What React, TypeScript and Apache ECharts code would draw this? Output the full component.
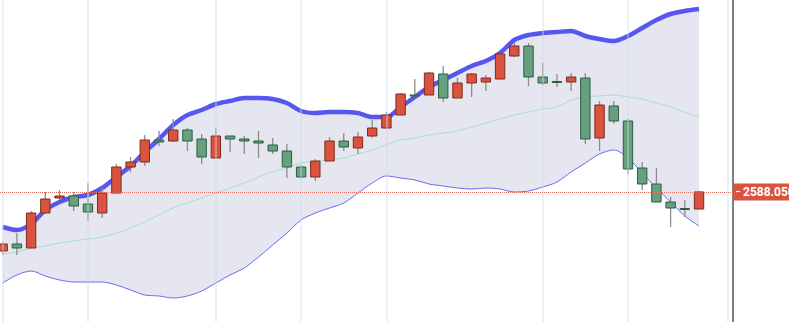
import React, { useEffect, useRef } from "react";
import * as echarts from "echarts";

const opens = [2529,2536,2532,2567,2582,2584,2576,2567,2587,2613,2618,2640,2639,2650,2641,2622,2644,2641,2639,2635,2629,2613,2603,2619,2639,2632,2644,2652,2665,2685,2685,2706,2682,2697,2698,2701,2724,2734,2703,2698.5,2698,2702,2642,2674,2659,2612,2596,2578,2571.5,2571];
const closes = [2536,2532,2567,2581,2584,2574,2568,2587,2613,2618,2640,2638,2650,2639,2623,2644,2641,2639,2637,2629,2613,2603,2619,2639,2633,2643,2652,2665,2686,2684,2707,2682,2697,2706,2702,2726,2734,2703,2697,2697.5,2703,2641,2675,2659,2611,2596,2578,2572,2570.5,2588.05];
const lows = [2525,2525,2532,2567,2580,2569,2559,2562,2587,2608,2614,2634,2638,2629,2616,2622,2628,2626,2622,2626,2602,2602,2599,2619,2629,2626,2642,2651,2665,2683,2685,2678,2682,2683,2689,2701,2723,2694,2695,2693,2689,2636,2629,2656,2606,2590,2578,2553,2563,2571];
const highs = [2538,2547,2569,2588,2590,2588,2597,2592,2616,2623,2645,2649,2661,2652,2646,2652,2644,2644,2649,2642,2636,2615,2621,2643,2647,2648,2660,2668,2687,2701,2708,2714,2702,2707,2705,2727,2737,2737,2717,2706,2707,2707,2679,2679,2661,2618,2612,2583,2580,2589];

const upperBand = [2553,2550,2556,2570,2578,2583,2585,2592,2603,2614,2628,2641,2655,2665,2670,2676,2679,2682,2682,2681,2677,2669,2667,2668,2668,2667,2663,2663,2673,2683,2693,2700,2707,2714,2719,2727,2740,2745,2747,2748,2749,2744,2741,2739,2744,2752,2760,2766,2769,2771];
const middleBand = [2526,2528,2532,2534,2537,2539,2541,2543,2547,2552,2558,2565,2572,2577,2582,2587,2592,2597,2603,2608,2612,2617,2619,2620,2622,2626,2630,2635,2640,2642,2645,2647,2649,2653,2657,2661,2665,2668,2671,2673,2680,2683,2684,2685,2683,2681,2677,2673,2668,2663];
const lowerBand = [2497,2505,2509,2504,2500,2498,2498,2498,2495,2490,2485,2484,2482,2484,2489,2497,2505,2512,2523,2535,2547,2560,2567,2572,2577,2587,2597,2604,2602,2600,2596,2594,2592,2591,2592,2591,2588,2589,2593,2598,2608,2617,2626,2630,2622,2607,2592,2578,2564,2554];

const gridLineIdx = [0, 6, 15, 21, 27, 38, 44, 51];
const lastPrice = 2588.05;
const lastPriceLabel = "2588.050";

const UP = "#d9533f";
const UP_BORDER = "#7e2a1e";
const DOWN = "#66a07f";
const DOWN_BORDER = "#2f5c42";

export default function App() {
  const ref = useRef<HTMLDivElement>(null);
  useEffect(() => {
    if (!ref.current) return;
    const chart = echarts.init(ref.current, null, { renderer: "svg" });
    const idx = opens.map((_, i) => i);
    const candleData = idx.map((i) => [i, opens[i], closes[i], lows[i], highs[i]]);
    const pair = (arr: number[]) => arr.map((v, i) => [i, v]);

    chart.setOption({
      animation: false,
      backgroundColor: "#ffffff",
      grid: { left: 0, right: 56, top: 0, bottom: 0 },
      xAxis: {
        type: "value",
        min: -0.19,
        max: 51.39,
        show: false,
      },
      yAxis: {
        type: "value",
        position: "right",
        min: 2458,
        max: 2780,
        axisLine: { show: true, onZero: false, lineStyle: { color: "#555555", width: 1.5 } },
        axisTick: { show: false },
        axisLabel: { show: false },
        splitLine: { show: false },
      },
      series: [
        {
          name: "bandFill",
          type: "line",
          data: pair(upperBand),
          smooth: 0.3,
          symbol: "none",
          lineStyle: { opacity: 0 },
          areaStyle: { color: "#e6e6f1", origin: "start", opacity: 1 },
          z: 1,
          silent: true,
        },
        {
          name: "bandMask",
          type: "line",
          data: pair(lowerBand),
          smooth: 0.3,
          symbol: "none",
          lineStyle: { opacity: 0 },
          areaStyle: { color: "#ffffff", origin: "start", opacity: 1 },
          z: 1,
          silent: true,
          markLine: {
            silent: true,
            symbol: "none",
            label: { show: false },
            lineStyle: { color: "rgba(205,218,236,0.55)", width: 1.5, type: "solid" },
            data: gridLineIdx.map((g) => ({ xAxis: g })),
          },
        },
        {
          name: "middle",
          type: "line",
          data: pair(middleBand),
          smooth: 0.3,
          symbol: "none",
          lineStyle: { color: "#a3e2cb", width: 1 },
          z: 3,
        },
        {
          name: "lower",
          type: "line",
          data: pair(lowerBand),
          smooth: 0.3,
          symbol: "none",
          lineStyle: { color: "#6a6af2", width: 1 },
          z: 3,
        },
        {
          name: "upper",
          type: "line",
          data: pair(upperBand),
          smooth: 0.3,
          symbol: "none",
          lineStyle: { color: "#5757ef", width: 4.5 },
          z: 3,
        },
        {
          name: "candles",
          type: "custom",
          data: candleData,
          encode: { x: 0, y: [1, 2, 3, 4] },
          z: 4,
          renderItem: (params: any, api: any) => {
            const i = api.value(0);
            const o = api.value(1);
            const c = api.value(2);
            const l = api.value(3);
            const h = api.value(4);
            const pO = api.coord([i, o]);
            const pC = api.coord([i, c]);
            const pL = api.coord([i, l]);
            const pH = api.coord([i, h]);
            const w = api.size([1, 0])[0] * 0.66;
            const up = c >= o;
            const top = Math.min(pO[1], pC[1]);
            const hgt = Math.max(Math.abs(pO[1] - pC[1]), 1);
            return {
              type: "group",
              children: [
                {
                  type: "line",
                  shape: { x1: pH[0], y1: pH[1], x2: pL[0], y2: pL[1] },
                  style: { stroke: "#8c8c8c", lineWidth: 1.3 },
                },
                {
                  type: "rect",
                  shape: { x: pO[0] - w / 2, y: top, width: w, height: hgt },
                  style: {
                    fill: up ? UP : DOWN,
                    stroke: up ? UP_BORDER : DOWN_BORDER,
                    lineWidth: 1,
                  },
                },
              ],
            };
          },
          markLine: {
            silent: true,
            symbol: "none",
            lineStyle: { color: "#e0705f", width: 1, type: "dotted" },
            label: {
              show: true,
              position: "end",
              distance: 0,
              formatter: lastPriceLabel,
              color: "#ffffff",
              backgroundColor: UP,
              fontFamily: "Roboto",
              fontWeight: "bold",
              fontSize: 12,
              padding: [2, 10, 2, 10],
              lineHeight: 13,
            },
            data: [{ yAxis: lastPrice }],
          },
        },
      ],
      graphic: [
        {
          type: "line",
          z: 100,
          shape: { x1: 736, y1: 191.5, x2: 740, y2: 191.5 },
          style: { stroke: "#ffffff", lineWidth: 1.2 },
        },
      ],
    });
    return () => chart.dispose();
  }, []);
  return (
    <div
      ref={ref}
      style={{ position: "fixed", left: 0, top: 0, width: 789, height: 322 }}
    />
  );
}
